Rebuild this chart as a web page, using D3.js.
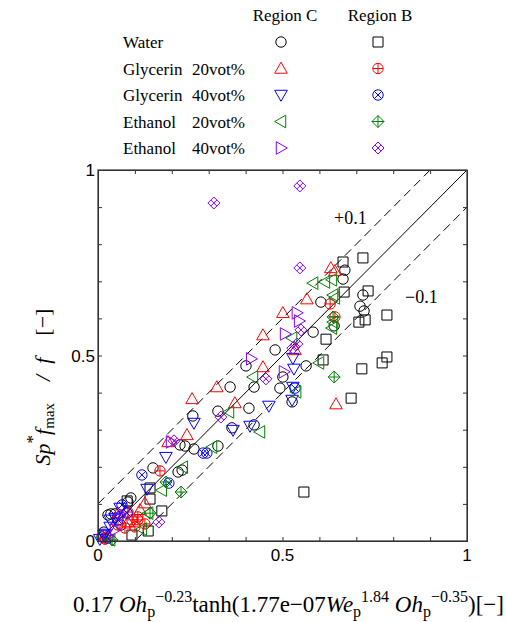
<!DOCTYPE html>
<html><head><meta charset="utf-8">
<script src="https://cdn.jsdelivr.net/npm/d3@7"></script>
<style>body{margin:0;background:#fff}svg{display:block}</style>
</head><body>
<script>
// ---------- data ----------
const waterC = [[0.669,0.730],[0.664,0.706],[0.604,0.644],[0.718,0.663],[0.710,0.633],[0.721,0.620],[0.640,0.580],[0.583,0.563],[0.564,0.472],[0.501,0.442],[0.526,0.375],[0.480,0.515],[0.401,0.472],[0.358,0.415],[0.423,0.415],[0.493,0.412],[0.409,0.358],[0.325,0.350],[0.257,0.337],[0.363,0.305],[0.423,0.313],[0.222,0.259],[0.236,0.256],[0.260,0.248],[0.325,0.256],[0.149,0.197],[0.217,0.186],[0.228,0.191],[0.089,0.116],[0.081,0.105],[0.035,0.073],[0.027,0.070],[0.046,0.073],[0.062,0.043],[0.011,0.011],[0.016,0.024]];
const waterB = [[0.664,0.752],[0.718,0.763],[0.667,0.671],[0.732,0.674],[0.707,0.590],[0.724,0.596],[0.783,0.609],[0.618,0.544],[0.610,0.488],[0.715,0.464],[0.770,0.480],[0.783,0.496],[0.686,0.385],[0.558,0.132],[0.141,0.143],[0.141,0.113],[0.173,0.081],[0.136,0.027],[0.092,0.016],[0.079,0.108]];
const gly20C = [[0.631,0.736],[0.642,0.728],[0.566,0.652],[0.501,0.615],[0.534,0.515],[0.447,0.555],[0.447,0.469],[0.322,0.415],[0.371,0.372],[0.255,0.383],[0.241,0.286],[0.190,0.267],[0.645,0.369],[0.127,0.102],[0.114,0.084],[0.054,0.075],[0.081,0.051]];
const gly20B = [[0.629,0.639],[0.642,0.604],[0.168,0.189],[0.108,0.057],[0.073,0.035],[0.019,0.008],[0.081,0.078],[0.054,0.043],[0.092,0.057],[0.108,0.065],[0.100,0.038],[0.127,0.046],[0.019,0.005]];
const gly40C = [[0.528,0.493],[0.531,0.464],[0.528,0.415],[0.526,0.380],[0.463,0.364],[0.412,0.310],[0.366,0.299],[0.260,0.318],[0.184,0.226],[0.133,0.140],[0.060,0.089],[0.033,0.057],[0.016,0.016],[0.046,0.062],[0.033,0.038],[0.019,0.019],[0.005,0.005]];
const gly40B = [[0.534,0.412],[0.285,0.237],[0.295,0.237],[0.119,0.178],[0.192,0.156],[0.065,0.097],[0.054,0.057],[0.027,0.008],[0.079,0.075]];
const eth20C = [[0.583,0.695],[0.615,0.698],[0.634,0.704],[0.637,0.663],[0.642,0.655],[0.637,0.590],[0.634,0.574],[0.526,0.547],[0.599,0.480],[0.537,0.402],[0.420,0.442],[0.355,0.348],[0.439,0.294],[0.309,0.253],[0.230,0.199],[0.173,0.137],[0.136,0.075],[0.119,0.032],[0.033,0.003]];
const eth20B = [[0.637,0.604],[0.640,0.442],[0.184,0.159],[0.225,0.132],[0.141,0.075],[0.038,0.003]];
const eth40C = [[0.539,0.615],[0.545,0.593],[0.507,0.558],[0.415,0.491],[0.504,0.456],[0.198,0.267],[0.027,0.013],[0.046,0.030]];
const eth40B = [[0.314,0.911],[0.547,0.957],[0.547,0.736],[0.550,0.569],[0.539,0.531],[0.528,0.520],[0.455,0.437],[0.333,0.334],[0.206,0.270],[0.165,0.051],[0.060,0.070]];
const offsets = [0.1, 0, -0.1];
const tickVals = [0, 0.5, 1];
const legendNames = [["Water",""],["Glycerin","20vot%"],["Glycerin","40vot%"],["Ethanol","20vot%"],["Ethanol","40vot%"]];

// ---------- chart ----------
const W = 507, H = 622;
const svg = d3.select("body").append("svg").attr("width", W).attr("height", H);
const L = 98, R = 467, T = 170, B = 541;
const x = d3.scaleLinear().domain([0,1]).range([L,R]);
const y = d3.scaleLinear().domain([0,1]).range([B,T]);
const serif = "'Liberation Serif','Times New Roman',serif";
const sans = "'Liberation Sans',Arial,sans-serif";

function marker(g, type, color) {
  const p = g.append("path").attr("fill","none").attr("stroke",color).attr("stroke-width",1);
  let d = "";
  const r = 5.2, t = 6.3;
  switch(type){
    case "circle": d = `M${r},0A${r},${r} 0 1,1 ${-r},0A${r},${r} 0 1,1 ${r},0Z`; break;
    case "square": d = "M-5,-5H5V5H-5Z"; break;
    case "up": d = `M0,${-t}L${t},${t*0.75}L${-t},${t*0.75}Z`; break;
    case "down": d = `M0,${t}L${t},${-t*0.75}L${-t},${-t*0.75}Z`; break;
    case "left": d = `M${-t},0L${t*0.75},${-t}L${t*0.75},${t}Z`; break;
    case "right": d = `M${t},0L${-t*0.75},${-t}L${-t*0.75},${t}Z`; break;
    case "cplus": d = `M${r},0A${r},${r} 0 1,1 ${-r},0A${r},${r} 0 1,1 ${r},0ZM${-r},0H${r}M0,${-r}V${r}`; break;
    case "cx": { const q = r*0.707; d = `M${r},0A${r},${r} 0 1,1 ${-r},0A${r},${r} 0 1,1 ${r},0ZM${-q},${-q}L${q},${q}M${-q},${q}L${q},${-q}`; break; }
    case "dplus": d = "M0,-6L6,0L0,6L-6,0ZM-6,0H6M0,-6V6"; break;
    case "dx": d = "M0,-6L6,0L0,6L-6,0ZM-3,-3L3,3M-3,3L3,-3"; break;
  }
  p.attr("d", d);
}

const series = [
  {data: waterC, type:"circle", color:"#000"},
  {data: waterB, type:"square", color:"#000"},
  {data: gly20C, type:"up", color:"#ff0000"},
  {data: gly20B, type:"cplus", color:"#ff0000"},
  {data: gly40C, type:"down", color:"#0000ff"},
  {data: gly40B, type:"cx", color:"#0000ff"},
  {data: eth20C, type:"left", color:"#008000"},
  {data: eth20B, type:"dplus", color:"#008000"},
  {data: eth40C, type:"right", color:"#8b00ff"},
  {data: eth40B, type:"dx", color:"#8b00ff"}
];

// reference lines
svg.append("defs").append("clipPath").attr("id","clip").append("rect")
  .attr("x",L).attr("y",T).attr("width",R-L).attr("height",B-T);
const lines = svg.append("g").attr("clip-path","url(#clip)");
offsets.forEach(o => {
  lines.append("line")
    .attr("x1", x(0)).attr("y1", y(o)).attr("x2", x(1)).attr("y2", y(1+o))
    .attr("stroke","#000").attr("stroke-width",1)
    .attr("stroke-dasharray", o===0 ? null : "9,5");
});

// points
const pts = svg.append("g");
series.forEach(s => {
  s.data.forEach(d => {
    const g = pts.append("g").attr("transform",`translate(${x(d[0])},${y(d[1])})`);
    marker(g, s.type, s.color);
  });
});

// axes with inward ticks on all sides
const minor = d3.range(0, 1.0001, 0.1);
const axB = d3.axisBottom(x).tickValues(minor).tickSize(-4).tickFormat("");
const axT = d3.axisTop(x).tickValues(minor).tickSize(-4).tickFormat("");
const axLft = d3.axisLeft(y).tickValues(minor).tickSize(-4).tickFormat("");
const axRt = d3.axisRight(y).tickValues(minor).tickSize(-4).tickFormat("");
[[axB,`translate(0,${B})`],[axT,`translate(0,${T})`],[axLft,`translate(${L},0)`],[axRt,`translate(${R},0)`]].forEach(([a,tr])=>{
  const g = svg.append("g").attr("transform",tr).call(a);
  g.selectAll("path,line").attr("stroke","#333");
});
svg.append("rect").attr("x",L).attr("y",T).attr("width",R-L).attr("height",B-T)
  .attr("fill","none").attr("stroke","#333").attr("stroke-width",1.2);

// tick labels
tickVals.forEach(v => {
  svg.append("text").attr("x", x(v)).attr("y", B+20).attr("text-anchor","middle")
    .attr("font-family",sans).attr("font-size",17).text(d3.format("~g")(v));
  svg.append("text").attr("x", L-3).attr("y", y(v)+6).attr("text-anchor","end")
    .attr("font-family",sans).attr("font-size",17).text(d3.format("~g")(v));
});

// line labels
svg.append("text").attr("x",334).attr("y",224).attr("font-family",serif).attr("font-size",18).text("+0.1");
svg.append("text").attr("x",405).attr("y",303).attr("font-family",serif).attr("font-size",18).text("\u22120.1");

// x label
const xl = svg.append("text").attr("x",73).attr("y",612).attr("font-family",serif).attr("font-size",23);
xl.append("tspan").text("0.17 ");
xl.append("tspan").attr("font-style","italic").text("Oh");
xl.append("tspan").attr("font-size",16).attr("dy",5).text("p");
xl.append("tspan").attr("font-size",16).attr("dy",-15).text("\u22120.23");
xl.append("tspan").attr("dy",10).text("tanh(1.77e\u221207");
xl.append("tspan").attr("font-style","italic").text("We");
xl.append("tspan").attr("font-size",16).attr("dy",5).text("p");
xl.append("tspan").attr("font-size",16).attr("dy",-15).text("1.84");
xl.append("tspan").attr("dy",10).text(" ");
xl.append("tspan").attr("font-style","italic").text("Oh");
xl.append("tspan").attr("font-size",16).attr("dy",5).text("p");
xl.append("tspan").attr("font-size",16).attr("dy",-15).text("\u22120.35");
xl.append("tspan").attr("dy",10).text(")[\u2212]");

// y label
const yl = svg.append("text").attr("transform","translate(50,387) rotate(-90)")
  .attr("text-anchor","middle").attr("font-family",serif).attr("font-size",22);
yl.append("tspan").attr("font-style","italic").text("Sp");
yl.append("tspan").attr("font-size",17).attr("dy",-12).text("*");
yl.append("tspan").attr("dy",12).attr("font-style","italic").text("f");
yl.append("tspan").attr("font-size",15).attr("dy",4).text("max");
yl.append("tspan").attr("dy",-4).attr("font-style","italic").text("\u2002\u2002/\u2002f\u2002\u2002");
yl.append("tspan").text("[\u2212]");

// legend
const lg = svg.append("g").attr("font-family",serif).attr("font-size",17);
lg.append("text").attr("x",285).attr("y",21).attr("text-anchor","middle").text("Region C");
lg.append("text").attr("x",380).attr("y",21).attr("text-anchor","middle").text("Region B");
const rowY = d3.scalePoint().domain(d3.range(5)).range([42,148]);
legendNames.forEach((n,i) => {
  lg.append("text").attr("x",123).attr("y",rowY(i)+6).text(n[0]);
  if (n[1]) lg.append("text").attr("x",192).attr("y",rowY(i)+6).text(n[1]);
  marker(lg.append("g").attr("transform",`translate(281,${rowY(i)})`), series[2*i].type, series[2*i].color);
  marker(lg.append("g").attr("transform",`translate(378,${rowY(i)})`), series[2*i+1].type, series[2*i+1].color);
});
</script>
</body></html>
